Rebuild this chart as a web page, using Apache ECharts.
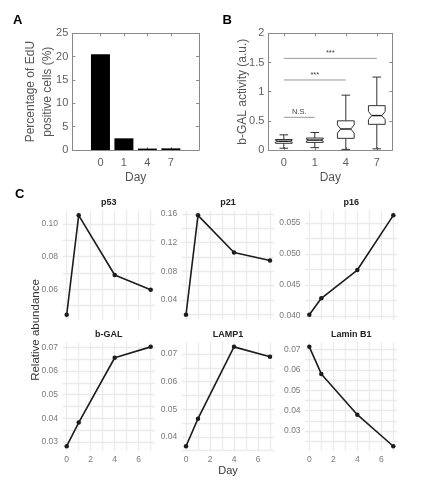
<!DOCTYPE html>
<html><head><meta charset="utf-8">
<script src="https://cdn.jsdelivr.net/npm/echarts@6/dist/echarts.min.js"></script>
<style>html,body{margin:0;padding:0;background:#fff}#c{width:436px;height:500px}</style>
</head><body><div id="c"></div>
<script>
// ---------- Panel A: EdU positive cells ----------
const daysA = ['0', '1', '4', '7'];
const eduPct = [20.5, 2.5, 0.3, 0.35];

// ---------- Panel B: b-GAL activity boxplots ----------
const daysB = ['0', '1', '4', '7'];
const bgalLow     = [0.03, 0.04, 0.01, 0.02];
const bgalQ1      = [0.115, 0.13, 0.20, 0.44];
const bgalNotchLo = [0.135, 0.155, 0.29, 0.52];
const bgalMedian  = [0.15, 0.17, 0.36, 0.59];
const bgalNotchHi = [0.165, 0.185, 0.43, 0.66];
const bgalQ3      = [0.18, 0.205, 0.50, 0.76];
const bgalHigh    = [0.26, 0.30, 0.94, 1.25];
const sigFrom = [0, 0, 0];
const sigTo   = [1, 2, 3];
const sigY    = [0.56, 1.2, 1.57];
const sigText = ['N.S.', '***', '***'];

// ---------- Panel C: relative abundance ----------
const daysC = [0, 1, 4, 7];
const dayTickLabels = ['0', '2', '4', '6'];
const facetNames = ['p53', 'p21', 'p16', 'b-GAL', 'LAMP1', 'Lamin B1'];
const p53     = [0.0443, 0.1053, 0.0687, 0.0597];
const p21     = [0.0191, 0.158, 0.106, 0.0949];
const p16     = [0.0402, 0.04285, 0.0474, 0.0562];
const bGAL    = [0.0282, 0.0382, 0.0656, 0.0702];
const LAMP1   = [0.0366, 0.0466, 0.0726, 0.069];
const LaminB1 = [0.0713, 0.058, 0.038, 0.0225];
const p53Labels     = ['0.06', '0.08', '0.10'];
const p21Labels     = ['0.04', '0.08', '0.12', '0.16'];
const p16Labels     = ['0.040', '0.045', '0.050', '0.055'];
const bGALLabels    = ['0.03', '0.04', '0.05', '0.06', '0.07'];
const LAMP1Labels   = ['0.04', '0.05', '0.06', '0.07'];
const LaminB1Labels = ['0.03', '0.04', '0.05', '0.06', '0.07'];

const facetValues = [p53, p21, p16, bGAL, LAMP1, LaminB1];
const facetLabels = [p53Labels, p21Labels, p16Labels, bGALLabels, LAMP1Labels, LaminB1Labels];

const FONT = 'Liberation Sans, Arial, Helvetica, sans-serif';
const BOX = '#8a8a8a';
const TICKTXT = '#5e5e5e';

function withMinor(major) {
  const step = major[1] - major[0];
  const out = [];
  major.forEach(m => { out.push(+(m - step / 2).toFixed(6)); out.push(m); out.push(+(m + step / 2).toFixed(6)); });
  return Array.from(new Set(out)).sort((a, b) => a - b);
}
const expandMin = v => v.min - 0.05 * (v.max - v.min);
const expandMax = v => v.max + 0.05 * (v.max - v.min);

const grids = [
  { left: 72.3, top: 33.3, width: 126.7, height: 116.7, outerBoundsMode: 'none' },
  { left: 268.3, top: 33.3, width: 124, height: 116.7, outerBoundsMode: 'none' }
];
const colLeft = [62.5, 181.8, 305.1];
const rowTop = [210.4, 341.9];
for (let k = 0; k < 6; k++) {
  grids.push({ left: colLeft[k % 3], top: rowTop[Math.floor(k / 3)], width: 92.4, height: 109.3, outerBoundsMode: 'none' });
}

const boxAxisLine = { show: true, onZero: false, lineStyle: { color: BOX, width: 1 } };
const inTick = { show: true, inside: true, length: 3, lineStyle: { color: BOX } };
const tickLabel = { color: TICKTXT, fontSize: 11, fontFamily: FONT };

const xAxes = [
  { gridIndex: 0, type: 'value', position: 'bottom', min: -0.2, max: 5.2,
    axisLine: boxAxisLine, splitLine: { show: false },
    axisTick: Object.assign({ customValues: [1, 2, 3, 4] }, inTick),
    axisLabel: Object.assign({ customValues: [1, 2, 3, 4], margin: 7, formatter: v => daysA[Math.round(v) - 1] || '' }, tickLabel),
    name: 'Day', nameLocation: 'middle', nameGap: 22, nameMoveOverlap: false,
    nameTextStyle: { color: '#555', fontSize: 12, fontFamily: FONT } },
  { gridIndex: 0, type: 'value', position: 'top', min: -0.2, max: 5.2,
    axisLine: boxAxisLine, splitLine: { show: false },
    axisTick: Object.assign({ customValues: [1, 2, 3, 4] }, inTick), axisLabel: { show: false } },
  { gridIndex: 1, type: 'category', position: 'bottom', data: daysB, boundaryGap: true,
    axisLine: boxAxisLine, axisTick: Object.assign({ alignWithLabel: true }, inTick),
    axisLabel: Object.assign({ margin: 7 }, tickLabel),
    name: 'Day', nameLocation: 'middle', nameGap: 22, nameMoveOverlap: false,
    nameTextStyle: { color: '#555', fontSize: 12, fontFamily: FONT } },
  { gridIndex: 1, type: 'category', position: 'top', data: daysB, boundaryGap: true,
    axisLine: boxAxisLine, axisTick: Object.assign({ alignWithLabel: true }, inTick), axisLabel: { show: false } }
];
const yAxes = [
  { gridIndex: 0, type: 'value', position: 'left', min: 0, max: 25, interval: 5,
    axisLine: boxAxisLine, axisTick: inTick, splitLine: { show: false },
    axisLabel: Object.assign({ margin: 4 }, tickLabel),
    name: 'Percentage of EdU\npositive cells (%)', nameLocation: 'middle', nameGap: 16, nameMoveOverlap: false,
    nameTextStyle: { color: '#555', fontSize: 12, lineHeight: 17, fontFamily: FONT } },
  { gridIndex: 0, type: 'value', position: 'right', min: 0, max: 25, interval: 5,
    axisLine: boxAxisLine, axisTick: inTick, splitLine: { show: false }, axisLabel: { show: false } },
  { gridIndex: 1, type: 'value', position: 'left', min: 0, max: 2, interval: 0.5,
    axisLine: boxAxisLine, axisTick: inTick, splitLine: { show: false },
    axisLabel: Object.assign({ margin: 4 }, tickLabel),
    name: 'b-GAL activity (a.u.)', nameLocation: 'middle', nameGap: 20, nameMoveOverlap: false,
    nameTextStyle: { color: '#555', fontSize: 12, fontFamily: FONT } },
  { gridIndex: 1, type: 'value', position: 'right', min: 0, max: 2, interval: 0.5,
    axisLine: boxAxisLine, axisTick: inTick, splitLine: { show: false }, axisLabel: { show: false } }
];

const gridLineStyle = { color: '#ebebeb', width: 1.3 };
const xMajorC = dayTickLabels.map(Number);
const series = [];

for (let k = 0; k < 6; k++) {
  const bottomRow = k >= 3;
  const xa = {
    gridIndex: 2 + k, type: 'value', position: 'bottom', min: expandMin, max: expandMax,
    axisLine: { show: false },
    axisTick: { show: false, customValues: withMinor(xMajorC) },
    splitLine: { show: true, lineStyle: gridLineStyle },
    axisLabel: bottomRow ? { show: true, customValues: xMajorC, margin: 3.5, color: '#7a7a7a', fontSize: 8.5, fontFamily: FONT,
      formatter: v => { const j = xMajorC.indexOf(Math.round(v)); return j >= 0 ? dayTickLabels[j] : ''; } } : { show: false }
  };
  if (k === 4) {
    xa.name = 'Day'; xa.nameLocation = 'middle'; xa.nameGap = 14.5; xa.nameMoveOverlap = false;
    xa.nameTextStyle = { color: '#333', fontSize: 11, fontFamily: FONT };
  }
  xAxes.push(xa);
  xAxes.push({
    gridIndex: 2 + k, type: 'value', position: 'top', min: expandMin, max: expandMax,
    axisLine: { show: false }, axisTick: { show: false }, axisLabel: { show: false }, splitLine: { show: false },
    name: facetNames[k], nameLocation: 'middle', nameGap: 3, nameMoveOverlap: false,
    nameTextStyle: { color: '#222', fontSize: 9, fontWeight: 'bold', fontFamily: FONT }
  });
  const labels = facetLabels[k];
  const major = labels.map(Number);
  yAxes.push({
    gridIndex: 2 + k, type: 'value', position: 'left', min: expandMin, max: expandMax, scale: true,
    axisLine: { show: false },
    axisTick: { show: false, customValues: withMinor(major) },
    splitLine: { show: true, lineStyle: gridLineStyle },
    axisLabel: { customValues: major, margin: 4.5, color: '#7a7a7a', fontSize: 8.5, fontFamily: FONT,
      formatter: v => { const j = major.findIndex(t => Math.abs(t - v) < 1e-7); return j >= 0 ? labels[j] : ''; } }
  });
  series.push({
    type: 'line', xAxisIndex: 4 + 2 * k, yAxisIndex: 4 + k,
    data: daysC.map((d, i) => [d, facetValues[k][i]]),
    symbol: 'circle', symbolSize: 4.5, showSymbol: true,
    lineStyle: { color: '#1c1c1c', width: 1.6 }, itemStyle: { color: '#1c1c1c' }
  });
}

// Panel A bars
series.push({
  type: 'bar', xAxisIndex: 0, yAxisIndex: 0, barWidth: 19,
  data: daysA.map((d, i) => [i + 1, eduPct[i]]),
  itemStyle: { color: '#000' }
});

// Panel B notched boxes
function renderBox(params, api) {
  const i = api.value(0);
  const y = v => api.coord([i, v])[1];
  const xc = api.coord([i, api.value(4)])[0];
  const band = api.size([1, 0])[0];
  const hw = band * 0.27, nw = hw * 0.6, cw = band * 0.14;
  const low = api.value(1), q1 = api.value(2), nlo = api.value(3), med = api.value(4),
        nhi = api.value(5), q3 = api.value(6), high = api.value(7);
  const st = { stroke: '#333', lineWidth: 1 };
  return { type: 'group', children: [
    { type: 'line', shape: { x1: xc, y1: y(q3), x2: xc, y2: y(high) }, style: st },
    { type: 'line', shape: { x1: xc, y1: y(q1), x2: xc, y2: y(low) }, style: st },
    { type: 'line', shape: { x1: xc - cw, y1: y(high), x2: xc + cw, y2: y(high) }, style: st },
    { type: 'line', shape: { x1: xc - cw, y1: y(low), x2: xc + cw, y2: y(low) }, style: st },
    { type: 'polygon', shape: { points: [
        [xc - hw, y(q3)], [xc + hw, y(q3)], [xc + hw, y(nhi)], [xc + nw, y(med)], [xc + hw, y(nlo)],
        [xc + hw, y(q1)], [xc - hw, y(q1)], [xc - hw, y(nlo)], [xc - nw, y(med)], [xc - hw, y(nhi)] ] },
      style: { stroke: '#333', lineWidth: 1, fill: '#fff' } },
    { type: 'line', shape: { x1: xc - nw, y1: y(med), x2: xc + nw, y2: y(med) }, style: { stroke: '#111', lineWidth: 1.4 } }
  ] };
}
series.push({
  type: 'custom', xAxisIndex: 2, yAxisIndex: 2, renderItem: renderBox,
  encode: { x: 0, y: [1, 2, 3, 4, 5, 6, 7] },
  data: daysB.map((d, i) => [i, bgalLow[i], bgalQ1[i], bgalNotchLo[i], bgalMedian[i], bgalNotchHi[i], bgalQ3[i], bgalHigh[i]])
});

// Panel B significance brackets
function renderSig(params, api) {
  const p1 = api.coord([api.value(0), api.value(2)]);
  const p2 = api.coord([api.value(1), api.value(2)]);
  return { type: 'group', children: [
    { type: 'line', shape: { x1: p1[0], y1: p1[1], x2: p2[0], y2: p2[1] }, style: { stroke: '#9a9a9a', lineWidth: 1 } },
    { type: 'text', x: (p1[0] + p2[0]) / 2, y: p1[1] - 1.5,
      style: { text: sigText[params.dataIndex], textAlign: 'center', textVerticalAlign: 'bottom', fontSize: 7.5, fill: '#444', fontFamily: FONT } }
  ] };
}
series.push({
  type: 'custom', xAxisIndex: 2, yAxisIndex: 2, renderItem: renderSig,
  encode: { x: [0, 1], y: 2 },
  data: sigFrom.map((f, i) => [f, sigTo[i], sigY[i]])
});

const option = {
  animation: false,
  backgroundColor: '#fff',
  textStyle: { fontFamily: FONT },
  title: [
    { text: 'A', left: 13, top: 14, padding: 0, textStyle: { fontSize: 13, fontWeight: 'bold', color: '#000', fontFamily: FONT } },
    { text: 'B', left: 222.5, top: 14, padding: 0, textStyle: { fontSize: 13, fontWeight: 'bold', color: '#000', fontFamily: FONT } },
    { text: 'C', left: 15, top: 188, padding: 0, textStyle: { fontSize: 13, fontWeight: 'bold', color: '#000', fontFamily: FONT } }
  ],
  graphic: [
    { type: 'text', x: 36, y: 330, rotation: Math.PI / 2,
      style: { text: 'Relative abundance', textAlign: 'center', textVerticalAlign: 'middle', fontSize: 11.5, fill: '#333', fontFamily: FONT } }
  ],
  grid: grids,
  xAxis: xAxes,
  yAxis: yAxes,
  series: series
};

const chart = echarts.init(document.getElementById('c'), null, { renderer: 'canvas' });
chart.setOption(option);
</script>
</body></html>
